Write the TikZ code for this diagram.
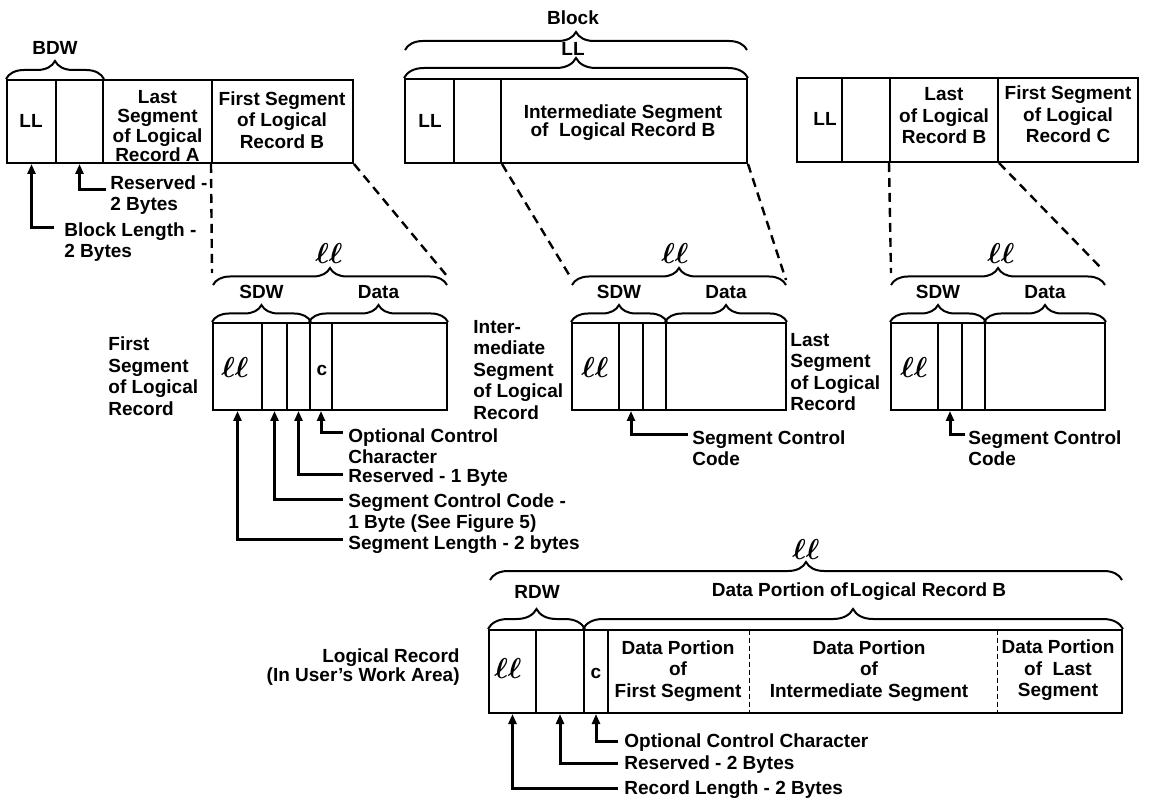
\documentclass[tikz,border=0pt]{standalone}
\usepackage{fontspec}
\setmainfont{Liberation Sans}
\usetikzlibrary{decorations.pathreplacing,fit,arrows.meta}
\newcommand{\ffont}{\bfseries\fontsize{9.5}{10.75}\selectfont}
\newcommand{\fftight}{\bfseries\fontsize{9.5}{9.6}\selectfont}
\newcommand{\lls}[1][15]{{\fontsize{#1}{#1}\selectfont\boldmath$\ell\ell$}}
\tikzset{
  every node/.style={font=\ffont, inner sep=0pt},
  cell/.style={draw, line width=1pt, inner sep=0pt},
  brc/.style={decorate, decoration={brace, amplitude=#1}, line width=1pt},
  brc/.default=8.5pt,
  dsh/.style={dash pattern=on 4.5pt off 3pt, line width=1.2pt},
  fdsh/.style={dash pattern=on 2.5pt off 1.5pt, line width=0.8pt},
  arr/.style={line width=1.5pt, -{Triangle[length=5pt,width=4pt]}},
  lbl/.style={align=left, anchor=west},
  ctr/.style={align=center},
}
\begin{document}
\begin{tikzpicture}[x=0.5pt,y=-0.5pt]
\useasboundingbox (0,0) rectangle (1166,801);

% ---------- top-left block ----------
\node[cell, fit={(7,80)(56,163)}] (aLL) {};
\node[cell, fit={(56,80)(103,163)}] (aRes) {};
\node[cell, fit={(103,80)(212,163)}] (aLast) {};
\node[cell, fit={(212,80)(353,163)}] (aFirst) {};
\node (aLLt) at (31,121) {LL};
\node[ctr, font=\fftight] (aLastt) at (157.5,126) {Last\\Segment\\of Logical\\Record A};
\node[ctr] (aFirstt) at (282,120) {First Segment\\of Logical\\Record B};
\draw[brc=9pt] (aLL.north west) -- (aRes.north east);
\node (aBDW) at (55,48) {BDW};

\coordinate (aRSp) at (106,190);
\node[lbl] (aRSt) at (110,195) {Reserved -\\2 Bytes};
\draw[arr] (aRSp) -| (aRes.south);
\coordinate (aBLp) at (54,228);
\node[lbl] (aBLt) at (64,242) {Block Length -\\2 Bytes};
\draw[arr] (aBLp) -| (aLL.south);

% ---------- top-middle block ----------
\node[cell, fit={(405,79)(454,163)}] (bLL) {};
\node[cell, fit={(454,79)(501,163)}] (bRes) {};
\node[cell, fit={(501,79)(747,163)}] (bInt) {};
\node (bLLt) at (430,121) {LL};
\node[ctr, font=\bfseries\fontsize{9.5}{9}\selectfont] (bIntt) at (623,123) {Intermediate Segment\\of\ \ Logical Record B};
\draw[brc=10pt] (bLL.north west) -- (bInt.north east);
\node (bLLl) at (573,49) {LL};
\draw[brc=9pt] (405,50) -- (747,50);
\node (bBlock) at (573,18) {Block};

% ---------- top-right block ----------
\node[cell, fit={(797,78)(842,162)}] (cLL) {};
\node[cell, fit={(842,78)(890,162)}] (cRes) {};
\node[cell, fit={(890,78)(998,162)}] (cLast) {};
\node[cell, fit={(998,78)(1138,162)}] (cFirst) {};
\node (cLLt) at (825,119) {LL};
\node[ctr] (cLastt) at (944,116) {Last\\of Logical\\Record B};
\node[ctr] (cFirstt) at (1068,114.5) {First Segment\\of Logical\\Record C};

% ---------- segment 1 (first) ----------
\node[cell, fit={(213,323)(262,410)}] (sAll) {};
\node[cell, fit={(262,323)(287,410)}] (sAscc) {};
\node[cell, fit={(287,323)(310,410)}] (sAres) {};
\node[cell, fit={(310,323)(332,410)}] (sAc) {};
\node[cell, fit={(332,323)(447,410)}] (sAdata) {};
\node (sAllx) at (235,368) {\lls};
\node (sAcx) at (322,370) {c};
\coordinate (sAtl) at (213,285);
\coordinate (sAtr) at (447,285);
\draw[brc] (sAtl) -- (sAtr);
\node (sAllt) at (329,254) {\lls};
\draw[brc] (sAll.north west) -- (sAres.north east);
\draw[brc] (sAc.north west) -- (sAdata.north east);
\node (sAsdw) at (261.5,292) {SDW};
\node (sAdt) at (378.5,292) {Data};
\draw[dsh] (aFirst.south west) -- (212,273);
\draw[dsh] (aFirst.south east) -- (447,276);
\node[lbl] (sAname) at (108,376) {First\\Segment\\of Logical\\Record};

\coordinate (sAocp) at (343,433);
\node[lbl] (sAoct) at (348,446) {Optional Control\\Character};
\draw[arr] (sAocp) -| (sAc.south);
\coordinate (sArsp) at (343,475);
\node[lbl] (sArst) at (348,478) {Reserved - 1 Byte};
\draw[arr] (sArsp) -| (sAres.south);
\coordinate (sAscp) at (343,499);
\node[lbl] (sAsct) at (348,513) {Segment Control Code -\\1 Byte (See Figure 5)};
\draw[arr] (sAscp) -| (sAscc.south);
\coordinate (sAslp) at (343,539);
\node[lbl] (sAslt) at (348,545) {Segment Length - 2 bytes};
\draw[arr] (sAslp) -| (sAll.south);

% ---------- segment 2 (intermediate) ----------
\node[cell, fit={(572,323)(619,410)}] (sBll) {};
\node[cell, fit={(619,323)(643,410)}] (sBscc) {};
\node[cell, fit={(643,323)(666,410)}] (sBres) {};
\node[cell, fit={(666,323)(786,410)}] (sBdata) {};
\node (sBllx) at (595,368) {\lls};
\coordinate (sBtl) at (572,285);
\coordinate (sBtr) at (786,285);
\draw[brc] (sBtl) -- (sBtr);
\node (sBllt) at (675,254) {\lls};
\draw[brc] (sBll.north west) -- (sBres.north east);
\draw[brc] (sBdata.north west) -- (sBdata.north east);
\node (sBsdw) at (619,292) {SDW};
\node (sBdt) at (726,292) {Data};
\draw[dsh] (bRes.south east) -- (571,278);
\draw[dsh] (bInt.south east) -- (786,280);
\node[lbl] (sBname) at (473,370) {Inter-\\mediate\\Segment\\of Logical\\Record};
\coordinate (sBscp) at (688,435);
\node[lbl] (sBsct) at (692,448) {Segment Control\\Code};
\draw[arr] (sBscp) -| (sBscc.south);

% ---------- segment 3 (last) ----------
\node[cell, fit={(891,323)(938,410)}] (sCll) {};
\node[cell, fit={(938,323)(962,410)}] (sCscc) {};
\node[cell, fit={(962,323)(985,410)}] (sCres) {};
\node[cell, fit={(985,323)(1105,410)}] (sCdata) {};
\node (sCllx) at (914,368) {\lls};
\coordinate (sCtl) at (891,285);
\coordinate (sCtr) at (1105,285);
\draw[brc] (sCtl) -- (sCtr);
\node (sCllt) at (1001,254) {\lls};
\draw[brc] (sCll.north west) -- (sCres.north east);
\draw[brc] (sCdata.north west) -- (sCdata.north east);
\node (sCsdw) at (938,292) {SDW};
\node (sCdt) at (1045,292) {Data};
\draw[dsh] (cLast.south west) -- (891,273);
\draw[dsh] (cLast.south east) -- (1103,270);
\node[lbl] (sCname) at (790,372) {Last\\Segment\\of Logical\\Record};
\coordinate (sCscp) at (965,435);
\node[lbl] (sCsct) at (968,448) {Segment Control\\Code};
\draw[arr] (sCscp) -| (sCscc.south);

% ---------- logical record ----------
\node[cell, fit={(489,630)(536,713)}] (rLL) {};
\node[cell, fit={(536,630)(584,713)}] (rRes) {};
\node[cell, fit={(584,630)(608,713)}] (rC) {};
\node[cell, fit={(608,630)(1122,713)}] (rData) {};
\node[fit={(608,630)(749,713)}] (rD1) {};
\node[fit={(749,630)(997,713)}] (rD2) {};
\node[fit={(997,630)(1122,713)}] (rD3) {};
\node (rLLx) at (508,668) {\lls};
\node (rCx) at (596,673) {c};
\node[ctr] (rD1t) at (678,671) {Data Portion\\of\\First Segment};
\node[ctr] (rD2t) at (869,671) {Data Portion\\of\\Intermediate Segment};
\node[ctr] (rD3t) at (1058,670.5) {Data Portion\\of\ \ Last\\Segment};
\draw[fdsh] (rD1.north east) -- (rD1.south east);
\draw[fdsh] (rD2.north east) -- (rD2.south east);
\coordinate (rtl) at (490,580);
\coordinate (rtr) at (1122,580);
\draw[brc=9pt] (rtl) -- (rtr);
\node (rllt) at (806,549) {\lls};
\draw[brc=10pt] (rLL.north west) -- (rRes.north east);
\draw[brc=10pt] (rC.north west) -- (rData.north east);
\node (rRDW) at (537,592) {RDW};
\node (rDPt) at (859,592) {Data Portion of\hspace{1pt}Logical Record B};
\node[align=right, anchor=east, font=\bfseries\fontsize{9.5}{9.2}\selectfont] (rname) at (460,667) {Logical Record\\(In User’s Work Area)};

\coordinate (rOCp) at (618,741);
\node[lbl] (rOCt) at (624,743) {Optional Control Character};
\draw[arr] (rOCp) -| (rC.south);
\coordinate (rRSp) at (618,763);
\node[lbl] (rRSt) at (624,765) {Reserved - 2 Bytes};
\draw[arr] (rRSp) -| (rRes.south);
\coordinate (rRLp) at (618,788);
\node[lbl] (rRLt) at (624,790) {Record Length - 2 Bytes};
\draw[arr] (rRLp) -| (rLL.south);
\end{tikzpicture}
\end{document}
